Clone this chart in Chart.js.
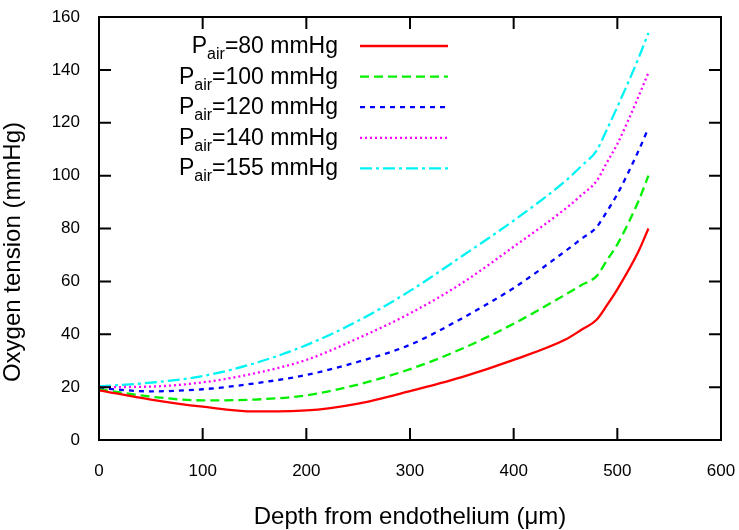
<!DOCTYPE html>
<html lang="en">
<head>
  <meta charset="UTF-8">
  <title>Oxygen tension vs depth</title>
  <script src="https://cdn.jsdelivr.net/npm/chart.js"></script>
  <style>
    body {
      margin: 0;
      background: #fff;
    }
    .wrap {
      width: 739px;
      height: 530px;
    }
  </style>
</head>
<body>
  <div class="wrap">
    <canvas id="oxyChart" width="739" height="530"></canvas>
  </div>

  <script>
    // depth (um) and oxygen tension (mmHg)
    const depth = [0, 50, 100, 150, 200, 250, 300, 350, 400, 450, 465, 480, 490, 500, 520, 530];
    const p80  = [18.8, 15.3, 12.6, 10.8, 11.2, 13.8, 18.5, 23.8, 30.3, 38.0, 41.6, 45.5, 51.0, 57.0, 71.0, 80.0];
    const p100 = [19.2, 16.4, 15.0, 15.3, 16.9, 21.0, 26.8, 34.5, 44.0, 55.0, 58.5, 62.0, 68.0, 74.0, 90.0, 100.0];
    const p120 = [19.6, 18.4, 19.2, 21.4, 24.6, 29.6, 36.0, 46.0, 57.5, 71.5, 76.0, 80.5, 86.5, 93.0, 109.0, 118.0];
    const p140 = [20.0, 20.2, 21.8, 25.2, 30.3, 38.5, 47.9, 59.3, 73.1, 87.5, 92.5, 98.0, 105.0, 112.0, 129.5, 139.0];
    const p155 = [20.3, 21.7, 24.2, 29.0, 35.9, 45.1, 56.4, 69.5, 83.0, 98.0, 103.5, 109.5, 117.5, 126.0, 144.0, 154.0];

    const labels = ['80', '100', '120', '140', '155'];
    const xTicks = [0, 100, 200, 300, 400, 500, 600];
    const yTicks = [0, 20, 40, 60, 80, 100, 120, 140, 160];

    const styles = [
      { color: '#ff0000', dash: [] },
      { color: '#00f000', dash: [9, 5] },
      { color: '#0000ff', dash: [5, 5] },
      { color: '#ff00ff', dash: [2, 3] },
      { color: '#00f4f4', dash: [12, 4, 3, 4] }
    ];

    const series = [p80, p100, p120, p140, p155];
    const FONT = '"Liberation Sans", Arial, sans-serif';

    const datasets = series.map((vals, i) => ({
      label: labels[i],
      data: vals.map((v, j) => ({ x: depth[j], y: v })),
      borderColor: styles[i].color,
      borderDash: styles[i].dash,
      borderWidth: 2.3,
      pointRadius: 0,
      fill: false,
      cubicInterpolationMode: 'monotone'
    }));

    function noPad(s) {
      s.paddingTop = 0;
      s.paddingBottom = 0;
      s.paddingLeft = 0;
      s.paddingRight = 0;
    }

    // frame, inward ticks on all four sides, axis titles, legend with subscript
    const decor = {
      id: 'decor',
      afterDraw(chart) {
        const ctx = chart.ctx;
        const a = chart.chartArea;
        const xs = chart.scales.x, ys = chart.scales.y;
        ctx.save();
        ctx.strokeStyle = '#000';
        ctx.lineWidth = 2;
        ctx.setLineDash([]);
        ctx.strokeRect(a.left, a.top, a.right - a.left, a.bottom - a.top);
        const tl = 12;
        ctx.beginPath();
        xTicks.forEach(t => {
          const px = xs.getPixelForValue(t);
          ctx.moveTo(px, a.bottom); ctx.lineTo(px, a.bottom - tl);
          ctx.moveTo(px, a.top); ctx.lineTo(px, a.top + tl);
        });
        yTicks.forEach(t => {
          const py = ys.getPixelForValue(t);
          ctx.moveTo(a.left, py); ctx.lineTo(a.left + tl, py);
          ctx.moveTo(a.right, py); ctx.lineTo(a.right - tl, py);
        });
        ctx.stroke();

        // axis titles
        ctx.fillStyle = '#000';
        ctx.font = '24px ' + FONT;
        ctx.textAlign = 'center';
        ctx.textBaseline = 'middle';
        ctx.fillText('Depth from endothelium (\u03bcm)', (a.left + a.right) / 2, 517);
        ctx.save();
        ctx.translate(13, 252);
        ctx.rotate(-Math.PI / 2);
        ctx.fillText('Oxygen tension (mmHg)', 0, 0);
        ctx.restore();

        // legend
        const rightEdge = 338;
        labels.forEach((lab, i) => {
          const ly = 46 + i * 30.6;
          const base = ly + 7;
          ctx.font = '23px ' + FONT;
          const rest = '=' + lab + ' mmHg';
          const wRest = ctx.measureText(rest).width;
          const wP = ctx.measureText('P').width;
          ctx.font = '16px ' + FONT;
          const wSub = ctx.measureText('air').width;
          let x = rightEdge - wRest - wSub - wP;
          ctx.textAlign = 'left';
          ctx.textBaseline = 'alphabetic';
          ctx.font = '23px ' + FONT;
          ctx.fillText('P', x, base);
          x += wP;
          ctx.font = '16px ' + FONT;
          ctx.fillText('air', x, base + 6);
          x += wSub;
          ctx.font = '23px ' + FONT;
          ctx.fillText(rest, x, base);

          ctx.beginPath();
          ctx.strokeStyle = styles[i].color;
          ctx.lineWidth = 2.3;
          ctx.setLineDash(styles[i].dash);
          ctx.moveTo(360, ly);
          ctx.lineTo(448, ly);
          ctx.stroke();
        });
        ctx.restore();
      }
    };

    new Chart(document.getElementById('oxyChart'), {
      type: 'line',
      data: { datasets },
      options: {
        responsive: false,
        animation: false,
        layout: { padding: { top: 17, right: 18, left: 0, bottom: 0 } },
        plugins: {
          legend: { display: false },
          tooltip: { enabled: false }
        },
        scales: {
          x: {
            type: 'linear',
            min: 0,
            max: 600,
            afterFit: s => { s.height = 90; noPad(s); },
            afterBuildTicks: s => { s.ticks = xTicks.map(v => ({ value: v })); },
            grid: { display: false, drawTicks: false },
            border: { display: false },
            ticks: { color: '#000', padding: 21, maxRotation: 0, font: { family: FONT, size: 17 } }
          },
          y: {
            min: 0,
            max: 160,
            afterFit: s => { s.width = 99; noPad(s); },
            afterBuildTicks: s => { s.ticks = yTicks.map(v => ({ value: v })); },
            grid: { display: false, drawTicks: false },
            border: { display: false },
            ticks: { color: '#000', padding: 19, font: { family: FONT, size: 17 } }
          }
        }
      },
      plugins: [decor]
    });
  </script>
</body>
</html>
